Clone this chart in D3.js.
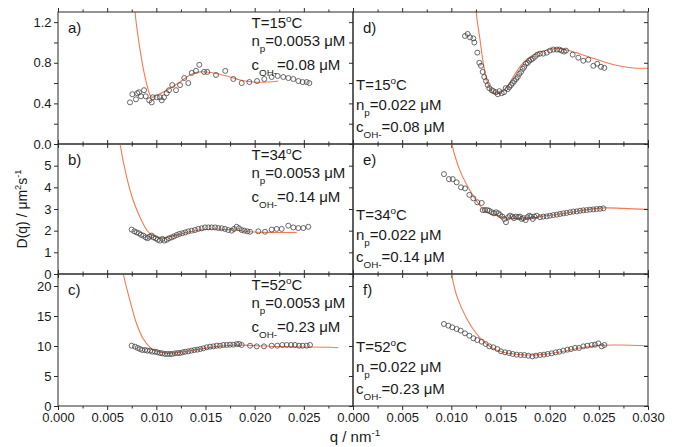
<!DOCTYPE html>
<html>
<head>
<meta charset="utf-8">
<script src="https://cdn.jsdelivr.net/npm/d3@7"></script>
<style>
  body { margin: 0; background: #fff; }
  svg { font-family: "Liberation Sans", Arial, sans-serif; }
</style>
</head>
<body>
<div id="chart"></div>
<script>
// measured points [q (nm^-1), D (um^2/s)]
const dataA = [[0.00732,0.41],[0.00756,0.49],[0.00793,0.44],[0.00806,0.50],[0.00824,0.51],[0.00844,0.47],[0.00875,0.53],[0.00892,0.47],[0.00928,0.43],[0.00953,0.41],[0.00963,0.46],[0.01004,0.46],[0.01037,0.46],[0.01055,0.43],[0.01078,0.46],[0.01105,0.50],[0.01129,0.53],[0.01162,0.58],[0.01200,0.53],[0.01241,0.58],[0.01284,0.65],[0.01325,0.60],[0.01360,0.70],[0.01403,0.72],[0.01437,0.78],[0.01485,0.71],[0.01518,0.71],[0.01607,0.68],[0.01701,0.72],[0.01783,0.64],[0.01868,0.60],[0.01946,0.61],[0.02024,0.62],[0.02098,0.64],[0.02173,0.66],[0.02234,0.67],[0.02291,0.66],[0.02342,0.65],[0.02393,0.64],[0.02444,0.62],[0.02488,0.61],[0.02529,0.61],[0.02556,0.60]];
const fitA = [[0.0074,1.9],[0.00783,1.30],[0.00834,0.93],[0.00885,0.66],[0.00936,0.48],[0.00953,0.46],[0.01004,0.48],[0.01105,0.53],[0.01241,0.61],[0.01342,0.68],[0.01444,0.71],[0.01579,0.70],[0.01716,0.67],[0.01851,0.63],[0.01986,0.61],[0.02122,0.61],[0.0224,0.62]];

const dataB = [[0.00749,2.05],[0.00776,1.97],[0.00800,1.92],[0.00824,1.88],[0.00844,1.81],[0.00868,1.77],[0.00892,1.69],[0.00912,1.65],[0.00928,1.72],[0.00953,1.77],[0.00969,1.69],[0.00993,1.65],[0.01014,1.58],[0.01037,1.54],[0.01061,1.62],[0.01081,1.54],[0.01105,1.58],[0.01129,1.65],[0.01156,1.69],[0.01180,1.74],[0.01207,1.80],[0.01234,1.85],[0.01264,1.88],[0.01295,1.92],[0.01325,1.97],[0.01360,2.00],[0.01393,2.03],[0.01427,2.08],[0.01461,2.11],[0.01495,2.15],[0.01529,2.15],[0.01563,2.15],[0.01597,2.15],[0.01630,2.12],[0.01665,2.11],[0.01698,2.08],[0.01732,2.03],[0.01766,2.00],[0.01790,2.08],[0.01817,2.18],[0.01841,2.11],[0.01868,2.03],[0.01895,2.00],[0.01925,1.97],[0.01953,1.95],[0.02037,1.97],[0.02105,1.95],[0.02173,2.05],[0.02224,2.08],[0.02275,2.08],[0.02342,2.23],[0.02393,2.15],[0.02444,2.12],[0.02495,2.12],[0.02546,2.18]];
const fitB = [[0.0060,7.2],[0.00631,6.0],[0.00699,4.46],[0.00766,3.38],[0.00834,2.62],[0.00902,2.03],[0.00953,1.81],[0.01037,1.69],[0.01139,1.72],[0.01274,1.88],[0.01444,2.03],[0.01614,2.08],[0.01783,2.03],[0.01953,1.95],[0.02156,1.92],[0.02427,1.92]];

const dataC = [[0.00749,10.05],[0.00783,9.89],[0.00810,9.67],[0.00834,9.50],[0.00857,9.33],[0.00885,9.33],[0.00908,9.22],[0.00936,9.22],[0.00959,9.05],[0.00986,9.05],[0.01010,8.95],[0.01037,8.83],[0.01061,8.78],[0.01088,8.67],[0.01112,8.67],[0.01139,8.67],[0.01162,8.67],[0.01190,8.78],[0.01217,8.83],[0.01241,8.83],[0.01268,8.95],[0.01295,9.05],[0.01325,9.11],[0.01356,9.22],[0.01386,9.33],[0.01417,9.39],[0.01447,9.50],[0.01478,9.61],[0.01512,9.78],[0.01546,9.89],[0.01580,9.94],[0.01614,10.05],[0.01647,10.05],[0.01681,10.17],[0.01716,10.17],[0.01749,10.22],[0.01783,10.22],[0.01817,10.33],[0.01841,10.33],[0.01868,10.17],[0.01953,10.05],[0.02021,9.94],[0.02095,9.94],[0.02173,10.05],[0.02230,10.05],[0.02281,10.17],[0.02326,10.17],[0.02370,10.17],[0.02410,10.17],[0.02451,10.05],[0.02488,10.05],[0.02529,10.05],[0.02563,10.17]];
const fitC = [[0.0062,26],[0.00664,22],[0.00732,17.55],[0.00800,13.67],[0.00868,11.17],[0.00936,9.78],[0.01004,9.11],[0.01105,8.78],[0.01241,8.95],[0.01410,9.39],[0.01614,9.89],[0.01817,10.17],[0.02021,10.05],[0.02291,9.89],[0.02766,9.78],[0.02851,9.72]];

const dataD = [[0.01139,1.064],[0.01166,1.084],[0.01190,1.05],[0.01224,1.04],[0.01234,1.00],[0.01264,0.90],[0.01285,0.80],[0.01302,0.77],[0.01319,0.71],[0.01335,0.66],[0.01353,0.62],[0.01370,0.58],[0.01386,0.55],[0.01411,0.53],[0.01427,0.52],[0.01451,0.51],[0.01472,0.49],[0.01488,0.52],[0.01512,0.50],[0.01536,0.51],[0.01553,0.55],[0.01573,0.54],[0.01590,0.56],[0.01607,0.58],[0.01624,0.60],[0.01640,0.62],[0.01658,0.64],[0.01675,0.66],[0.01691,0.69],[0.01709,0.71],[0.01726,0.74],[0.01742,0.76],[0.01759,0.79],[0.01777,0.80],[0.01793,0.82],[0.01810,0.83],[0.01828,0.84],[0.01851,0.86],[0.01874,0.88],[0.01902,0.89],[0.01935,0.89],[0.01970,0.90],[0.02003,0.92],[0.02037,0.93],[0.02072,0.93],[0.02098,0.93],[0.02122,0.92],[0.02146,0.91],[0.02166,0.92],[0.02234,0.88],[0.02291,0.85],[0.02342,0.82],[0.02393,0.83],[0.02444,0.77],[0.02484,0.79],[0.02522,0.76],[0.02556,0.75]];
const fitD = [[0.0123,1.6],[0.01258,1.254],[0.01292,1.025],[0.01325,0.795],[0.01360,0.63],[0.01393,0.549],[0.01427,0.505],[0.01461,0.493],[0.01495,0.505],[0.01563,0.559],[0.01630,0.663],[0.01698,0.762],[0.01766,0.834],[0.01868,0.894],[0.01970,0.926],[0.02072,0.939],[0.02173,0.926],[0.02309,0.887],[0.02444,0.844],[0.02580,0.801],[0.02715,0.768],[0.02851,0.749],[0.03003,0.746]];

const dataE = [[0.00925,4.61],[0.00976,4.38],[0.01014,4.38],[0.01054,4.23],[0.01098,4.00],[0.01139,3.95],[0.01183,3.65],[0.01224,3.49],[0.01264,3.31],[0.01309,3.28],[0.01319,2.95],[0.01342,2.95],[0.01366,2.95],[0.01386,2.92],[0.01411,2.85],[0.01434,2.80],[0.01454,2.85],[0.01478,2.80],[0.01495,2.72],[0.01518,2.65],[0.01539,2.54],[0.01556,2.39],[0.01579,2.62],[0.01597,2.69],[0.01620,2.65],[0.01637,2.58],[0.01658,2.65],[0.01681,2.62],[0.01698,2.65],[0.01716,2.54],[0.01732,2.58],[0.01756,2.49],[0.01773,2.62],[0.01793,2.69],[0.01810,2.65],[0.01828,2.54],[0.01844,2.65],[0.01868,2.69],[0.01902,2.62],[0.01935,2.65],[0.01970,2.66],[0.02003,2.69],[0.02037,2.72],[0.02072,2.74],[0.02105,2.77],[0.02139,2.80],[0.02173,2.82],[0.02207,2.85],[0.02241,2.88],[0.02275,2.89],[0.02309,2.92],[0.02342,2.94],[0.02376,2.95],[0.02410,2.97],[0.02444,2.98],[0.02478,3.00],[0.02512,3.01],[0.02546,3.03]];
const fitE = [[0.0095,7.2],[0.01004,6.0],[0.01088,4.77],[0.01190,3.85],[0.01292,3.15],[0.01360,2.85],[0.01461,2.69],[0.01563,2.58],[0.01732,2.54],[0.01902,2.65],[0.02105,2.77],[0.02309,2.92],[0.02546,3.05],[0.02749,3.03],[0.03003,2.98]];

const dataF = [[0.00925,13.67],[0.00970,13.39],[0.01010,13.11],[0.01054,12.83],[0.01095,12.56],[0.01139,12.11],[0.01183,11.72],[0.01224,11.28],[0.01264,11.00],[0.01309,10.72],[0.01349,10.33],[0.01386,9.94],[0.01427,9.78],[0.01468,9.50],[0.01505,9.11],[0.01546,8.94],[0.01586,8.83],[0.01624,8.67],[0.01665,8.56],[0.01705,8.50],[0.01742,8.50],[0.01783,8.39],[0.01824,8.28],[0.01861,8.39],[0.01902,8.50],[0.01942,8.56],[0.01980,8.67],[0.02021,8.78],[0.02061,8.94],[0.02098,9.05],[0.02139,9.22],[0.02180,9.39],[0.02217,9.50],[0.02258,9.67],[0.02298,9.67],[0.02342,9.94],[0.02383,10.05],[0.02427,10.17],[0.02461,10.22],[0.02495,10.44],[0.02529,9.94],[0.02556,10.17]];
const fitF = [[0.0095,28],[0.00997,22.5],[0.01054,18.4],[0.01156,14.6],[0.01258,12.0],[0.01360,10.3],[0.01461,9.3],[0.01597,8.75],[0.01766,8.5],[0.01935,8.61],[0.02105,9.0],[0.02309,9.67],[0.02512,10.11],[0.02715,10.17],[0.03003,10.05]];

// axis ticks and labels
const xMajor = [0, 0.005, 0.01, 0.015, 0.02, 0.025, 0.03];
const xMinor = [0.0025, 0.0075, 0.0125, 0.0175, 0.0225, 0.0275];
const xLabelsLeft = ["0.000", "0.005", "0.010", "0.015", "0.020", "0.025"];
const xLabelsRight = ["0.000", "0.005", "0.010", "0.015", "0.020", "0.025", "0.030"];
const yDomains = [[0, 1.3], [0, 6], [0, 22]];
const yTicks = [[0, 0.2, 0.4, 0.6, 0.8, 1.0, 1.2], [0, 1, 2, 3, 4, 5, 6], [0, 5, 10, 15, 20]];
const yLabels = [["0.0", "", "0.4", "", "0.8", "", "1.2"], ["0", "1", "2", "3", "4", "5", ""], ["0", "5", "10", "15", "20"]];

// panel annotations
const temps = ["15", "34", "52"];
const npValues = ["0.0053", "0.022"];
const cohValues = ["0.08", "0.14", "0.23"];
const letters = [["a)", "b)", "c)"], ["d)", "e)", "f)"]];
const panelData = [[dataA, dataB, dataC], [dataD, dataE, dataF]];
const panelFits = [[fitA, fitB, fitC], [fitD, fitE, fitF]];

const width = 688;
const height = 447;
const colLeft = [58, 353];
const colW = 295;
const rowTop = [12, 144, 274];
const rowBottom = [144, 274, 406];
const fitColor = "#f27a55";
const axisColor = "#2b2b2b";

const svg = d3
  .select("#chart")
  .append("svg")
  .attr("width", width)
  .attr("height", height);

// text with sub/superscript pieces: [string, mode]
const richText = (parent, x, y, parts, size, anchor) => {
  const text = parent
    .append("text")
    .attr("x", x)
    .attr("y", y)
    .attr("fill", "#1a1a1a")
    .attr("text-anchor", anchor || "start")
    .style("font-size", `${size}px`);
  let shift = 0;
  parts.forEach(([str, mode]) => {
    const target = mode === "sup" ? -size * 0.42 : mode === "sub" ? size * 0.38 : 0;
    text
      .append("tspan")
      .attr("dy", target - shift)
      .style("font-size", mode ? `${size * 0.66}px` : null)
      .text(str);
    shift = target;
  });
  return text;
};

const lineGen = (x, y) =>
  d3
    .line()
    .x((d) => x(d[0]))
    .y((d) => y(d[1]))
    .curve(d3.curveCatmullRom.alpha(0.5));

for (let c = 0; c < 2; c++) {
  for (let r = 0; r < 3; r++) {
    const x = d3.scaleLinear().domain([0, 0.03]).range([colLeft[c], colLeft[c] + colW]);
    const y = d3.scaleLinear().domain(yDomains[r]).range([rowBottom[r], rowTop[r]]);
    const g = svg.append("g");
    const clipId = `clip-${c}-${r}`;

    g.append("clipPath")
      .attr("id", clipId)
      .append("rect")
      .attr("x", colLeft[c])
      .attr("y", rowTop[r])
      .attr("width", colW)
      .attr("height", rowBottom[r] - rowTop[r]);

    // fit line
    g.append("path")
      .attr("clip-path", `url(#${clipId})`)
      .attr("fill", "none")
      .attr("stroke", fitColor)
      .attr("stroke-width", 1.1)
      .attr("d", lineGen(x, y)(panelFits[c][r]));

    // data circles
    g.append("g")
      .selectAll("circle")
      .data(panelData[c][r])
      .join("circle")
      .attr("cx", (d) => x(d[0]))
      .attr("cy", (d) => y(d[1]))
      .attr("r", 2.5)
      .attr("fill", "none")
      .attr("stroke", "#444")
      .attr("stroke-width", 0.8);

    // frame
    g.append("rect")
      .attr("x", colLeft[c])
      .attr("y", rowTop[r])
      .attr("width", colW)
      .attr("height", rowBottom[r] - rowTop[r])
      .attr("fill", "none")
      .attr("stroke", axisColor)
      .attr("stroke-width", 1);

    const styleAxis = (sel) => {
      sel.select(".domain").remove();
      sel.selectAll("line").attr("stroke", axisColor);
      sel.selectAll("text").attr("fill", "#1a1a1a").style("font-size", "13px").style("font-family", null);
    };

    // left axis (labels only on left column)
    g.append("g")
      .attr("transform", `translate(${colLeft[c]},0)`)
      .call(
        d3.axisLeft(y)
          .tickValues(yTicks[r])
          .tickSize(4)
          .tickPadding(2.5)
          .tickFormat((d, i) => (c === 0 ? yLabels[r][i] : ""))
      )
      .call(styleAxis);

    // right axis, inward ticks
    if (c === 1) {
      g.append("g")
        .attr("transform", `translate(${colLeft[c] + colW},0)`)
        .call(d3.axisRight(y).tickValues(yTicks[r]).tickSize(-4).tickFormat(""))
        .call(styleAxis);
    }

    // top ticks
    g.append("g")
      .attr("transform", `translate(0,${rowTop[r]})`)
      .call(d3.axisTop(x).tickValues(xMajor).tickSize(4).tickFormat(""))
      .call(styleAxis);
    g.append("g")
      .attr("transform", `translate(0,${rowTop[r]})`)
      .call(d3.axisTop(x).tickValues(xMinor).tickSize(2.5).tickFormat(""))
      .call(styleAxis);

    // bottom ticks, labels on bottom row
    const labels = c === 0 ? xLabelsLeft : xLabelsRight;
    g.append("g")
      .attr("transform", `translate(0,${rowBottom[r]})`)
      .call(
        d3.axisBottom(x)
          .tickValues(xMajor)
          .tickSize(4)
          .tickPadding(3)
          .tickFormat((d, i) => (r === 2 && labels[i] ? labels[i] : ""))
      )
      .call(styleAxis);
    g.append("g")
      .attr("transform", `translate(0,${rowBottom[r]})`)
      .call(d3.axisBottom(x).tickValues(xMinor).tickSize(2.5).tickFormat(""))
      .call(styleAxis);

    // panel letter
    g.append("text")
      .attr("x", colLeft[c] + 10)
      .attr("y", rowTop[r] + 21)
      .attr("fill", "#1a1a1a")
      .style("font-size", "15px")
      .text(letters[c][r]);

    // condition text
    const tx = c === 0 ? 251.5 : 356;
    const ty = c === 0 ? rowTop[r] + 16 : rowBottom[r] - 54;
    const gaps = c === 0 ? [0, 18, 42] : [0, 20, 42];
    richText(g, tx, ty + gaps[0], [[`T=${temps[r]}`], ["o", "sup"], ["C"]], 15);
    richText(g, tx, ty + gaps[1], [["n"], ["p", "sub"], [`=${npValues[c]} μM`]], 15);
    richText(g, tx, ty + gaps[2], [["c"], ["OH-", "sub"], [`=${cohValues[r]} μM`]], 15);
  }
}

// axis titles
const yTitle = richText(
  svg,
  0,
  0,
  [["D(q) / μm"], ["2", "sup"], ["s"], ["-1", "sup"]],
  14,
  "middle"
);
yTitle.attr("transform", "translate(27,209) rotate(-90)");

richText(svg, 355, 442, [["q / nm"], ["-1", "sup"]], 15, "middle");
</script>
</body>
</html>
